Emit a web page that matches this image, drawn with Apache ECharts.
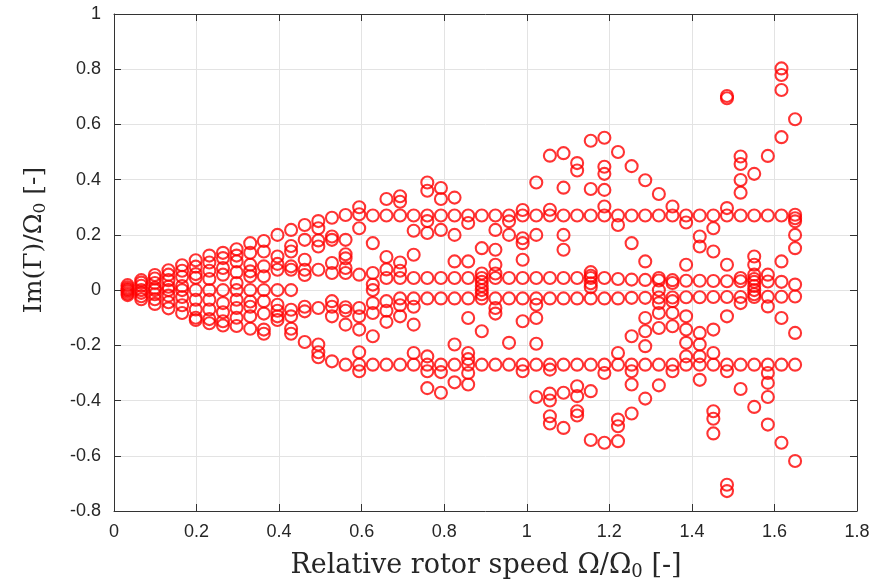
<!DOCTYPE html>
<html>
<head>
<meta charset="utf-8">
<script src="https://cdn.jsdelivr.net/npm/echarts@6/dist/echarts.min.js"></script>
<style>
  html, body { margin: 0; padding: 0; background: #ffffff; }
  #chart { width: 894px; height: 586px; }
</style>
</head>
<body>
<div id="chart"></div>
<script>
// Relative rotor speed at which the eigenvalues were computed
const rotorSpeed = [0.033, 0.066, 0.099, 0.132, 0.165, 0.198, 0.231, 0.264, 0.297, 0.33,
  0.363, 0.396, 0.429, 0.462, 0.495, 0.528, 0.561, 0.594, 0.627, 0.66,
  0.693, 0.726, 0.759, 0.792, 0.825, 0.858, 0.891, 0.924, 0.957, 0.99,
  1.023, 1.056, 1.089, 1.122, 1.155, 1.188, 1.221, 1.254, 1.287, 1.32,
  1.353, 1.386, 1.419, 1.452, 1.485, 1.518, 1.551, 1.584, 1.617, 1.65];

// Im(Gamma)/Omega_0 of every mode, one list per rotor speed
const lowSpeedModes = [
  [0.018, 0.01, 0.004, 0.0, -0.005, -0.012, -0.018],
  [0.036, 0.027, 0.016, 0.0, -0.01, -0.022, -0.033],
  [0.055, 0.042, 0.026, 0.008, 0.0, -0.015, -0.033, -0.05],
  [0.072, 0.056, 0.036, 0.012, 0.0, -0.02, -0.044, -0.066],
  [0.09, 0.07, 0.048, 0.015, 0.0, -0.025, -0.055, -0.083],
  [0.108, 0.085, 0.058, 0.045, 0.0, -0.035, -0.07, -0.1, -0.108],
  [0.125, 0.1, 0.07, 0.04, 0.0, -0.035, -0.07, -0.105, -0.12],
  [0.135, 0.116, 0.08, 0.056, 0.0, -0.047, -0.08, -0.113, -0.128],
  [0.148, 0.125, 0.104, 0.065, 0.026, 0.0, -0.035, -0.065, -0.1, -0.13],
  [0.17, 0.135, 0.092, 0.068, 0.05, 0.0, -0.041, -0.06, -0.095, -0.14],
  [0.178, 0.14, 0.086, 0.05, 0.0, -0.04, -0.085, -0.143, -0.158],
  [0.2, 0.122, 0.095, 0.074, 0.0, -0.053, -0.075, -0.095, -0.108],
  [0.218, 0.16, 0.14, 0.086, 0.074, 0.0, -0.071, -0.095, -0.14, -0.158],
  [0.236, 0.182, 0.11, 0.074, 0.055, -0.06, -0.077, -0.188],
  [0.25, 0.224, 0.18, 0.158, 0.074, -0.065, -0.197, -0.225, -0.243],
  [0.262, 0.194, 0.182, 0.098, 0.062, -0.04, -0.06, -0.095, -0.258],
  [0.272, 0.182, 0.13, 0.115, 0.08, 0.062, -0.062, -0.075, -0.125, -0.27]
];
const midSpeedModes = [
  [0.3, 0.275, 0.224, 0.056, -0.065, -0.095, -0.143, -0.225, -0.27, -0.294],
  [0.27, 0.17, 0.062, 0.02, 0.0, -0.047, -0.083, -0.167, -0.27],
  [0.33, 0.27, 0.12, 0.075, 0.044, -0.04, -0.075, -0.115, -0.27],
  [0.34, 0.32, 0.27, 0.1, 0.07, 0.044, -0.03, -0.055, -0.095, -0.27],
  [0.27, 0.215, 0.128, 0.044, -0.03, -0.06, -0.125, -0.228, -0.27],
  [0.39, 0.36, 0.27, 0.25, 0.207, 0.044, -0.03, -0.24, -0.27, -0.294, -0.355],
  [0.37, 0.33, 0.27, 0.218, 0.044, -0.03, -0.27, -0.297, -0.372],
  [0.335, 0.27, 0.2, 0.104, 0.044, -0.03, -0.197, -0.27, -0.334],
  [0.27, 0.243, 0.104, 0.044, -0.03, -0.101, -0.228, -0.25, -0.27, -0.3, -0.342],
  [0.27, 0.152, 0.06, 0.044, 0.03, 0.015, 0.0, -0.015, -0.03, -0.149, -0.27],
  [0.27, 0.218, 0.146, 0.092, 0.06, 0.044, -0.03, -0.065, -0.085, -0.27],
  [0.27, 0.249, 0.2, 0.044, -0.03, -0.191, -0.27],
  [0.29, 0.27, 0.188, 0.17, 0.11, 0.044, -0.03, -0.113, -0.27, -0.294],
  [0.39, 0.27, 0.2, 0.044, -0.03, -0.053, -0.101, -0.194, -0.27, -0.387],
  [0.487, 0.291, 0.27, 0.044, -0.03, -0.27, -0.288, -0.375, -0.4, -0.457, -0.483],
  [0.496, 0.371, 0.27, 0.2, 0.146, 0.044, -0.03, -0.27, -0.372, -0.499],
  [0.46, 0.433, 0.27, 0.044, -0.03, -0.27, -0.348, -0.384, -0.439, -0.454]
];
const highSpeedModes = [
  [0.541, 0.366, 0.27, 0.065, 0.052, 0.044, 0.025, 0.01, -0.03, -0.27, -0.366, -0.543],
  [0.552, 0.447, 0.421, 0.363, 0.303, 0.27, 0.044, -0.03, -0.27, -0.3, -0.553],
  [0.5, 0.27, 0.236, 0.04, -0.03, -0.228, -0.27, -0.469, -0.493, -0.547],
  [0.449, 0.27, 0.17, 0.038, -0.028, -0.167, -0.27, -0.294, -0.342, -0.447],
  [0.398, 0.27, 0.104, 0.037, -0.028, -0.101, -0.149, -0.203, -0.27, -0.393],
  [0.348, 0.27, 0.044, 0.035, 0.0, -0.027, -0.047, -0.083, -0.137, -0.27, -0.345],
  [0.303, 0.27, 0.036, 0.026, -0.027, -0.04, -0.083, -0.131, -0.27, -0.294],
  [0.27, 0.245, 0.092, 0.034, -0.026, -0.095, -0.143, -0.191, -0.24, -0.27],
  [0.27, 0.194, 0.158, 0.034, -0.026, -0.155, -0.197, -0.24, -0.27, -0.325],
  [0.27, 0.224, 0.14, 0.033, -0.025, -0.143, -0.228, -0.27, -0.439, -0.466, -0.519],
  [0.703, 0.695, 0.297, 0.27, 0.092, 0.032, -0.025, -0.095, -0.27, -0.294, -0.705, -0.728],
  [0.484, 0.457, 0.399, 0.353, 0.27, 0.044, 0.032, -0.025, -0.047, -0.27, -0.358],
  [0.421, 0.27, 0.122, 0.092, 0.056, 0.04, 0.03, 0.015, 0.0, -0.015, -0.025, -0.27, -0.423],
  [0.486, 0.27, 0.056, 0.031, -0.024, -0.059, -0.27, -0.3, -0.336, -0.387, -0.487],
  [0.803, 0.779, 0.725, 0.554, 0.27, 0.104, 0.03, -0.024, -0.101, -0.27, -0.553],
  [0.619, 0.273, 0.26, 0.249, 0.2, 0.152, 0.02, -0.023, -0.155, -0.27, -0.619]
];

const xTicks = [0, 0.2, 0.4, 0.6, 0.8, 1, 1.2, 1.4, 1.6, 1.8];
const yTicks = [-0.8, -0.6, -0.4, -0.2, 0, 0.2, 0.4, 0.6, 0.8, 1];

const modesBySpeed = lowSpeedModes.concat(midSpeedModes, highSpeedModes);
const points = [];
modesBySpeed.forEach((modes, i) => {
  modes.forEach(im => points.push([rotorSpeed[i], im]));
});

const axisColor = '#333333';
const labelFont = { fontFamily: 'Liberation Sans, Arial, sans-serif', fontSize: 18, color: '#262626' };
const fmt = v => String(Number(v.toFixed(1)));
const serif = 'DejaVu Serif, serif';
function titleRich(size) {
  return {
    m: { fontFamily: serif, fontSize: size, fill: '#262626', lineHeight: 32 },
    s: { fontFamily: serif, fontSize: Math.round(size * 0.68), fill: '#262626', lineHeight: 32, padding: [13, 0, 0, 0] }
  };
}

const plot = { left: 114, top: 14, width: 743, height: 497 };

function boxAxis(extra) {
  return Object.assign({
    type: 'value', interval: 0.2,
    axisLine: { show: true, onZero: false, lineStyle: { color: axisColor, width: 1 } },
    axisTick: { show: true, inside: true, length: 7, lineStyle: { color: axisColor } }
  }, extra);
}

const chart = echarts.init(document.getElementById('chart'), null, { renderer: 'canvas' });
chart.setOption({
  backgroundColor: '#ffffff',
  animation: false,
  grid: plot,
  xAxis: [
    boxAxis({
      min: xTicks[0], max: xTicks[xTicks.length - 1],
      axisLabel: Object.assign({ margin: 12, formatter: fmt }, labelFont),
      splitLine: { show: true, lineStyle: { color: '#e3e3e3', width: 1 } }
    }),
    boxAxis({
      position: 'top', min: xTicks[0], max: xTicks[xTicks.length - 1],
      axisLabel: { show: false }, splitLine: { show: false }
    })
  ],
  yAxis: [
    boxAxis({
      min: yTicks[0], max: yTicks[yTicks.length - 1],
      axisLabel: Object.assign({ margin: 13, formatter: fmt }, labelFont),
      splitLine: { show: true, lineStyle: { color: '#e3e3e3', width: 1 } }
    }),
    boxAxis({
      position: 'right', min: yTicks[0], max: yTicks[yTicks.length - 1],
      axisLabel: { show: false }, splitLine: { show: false }
    })
  ],
  graphic: [
    {
      type: 'text', x: 486, y: 566,
      style: {
        text: '{m|Relative rotor speed Ω/Ω}{s|0}{m| [-]}',
        align: 'center', verticalAlign: 'middle',
        rich: titleRich(27)
      }
    },
    {
      type: 'text', x: 34, y: 240, rotation: Math.PI / 2,
      style: {
        text: '{m|Im(Γ)/Ω}{s|0}{m| [-]}',
        align: 'center', verticalAlign: 'middle',
        rich: titleRich(25)
      }
    }
  ],
  series: [
    {
      type: 'scatter',
      xAxisIndex: 0, yAxisIndex: 0,
      data: points,
      symbol: 'circle',
      symbolSize: 12,
      itemStyle: { color: 'rgba(255,0,0,0)', borderColor: '#ff0000', borderWidth: 2.1 }
    }
  ]
});
</script>
</body>
</html>
